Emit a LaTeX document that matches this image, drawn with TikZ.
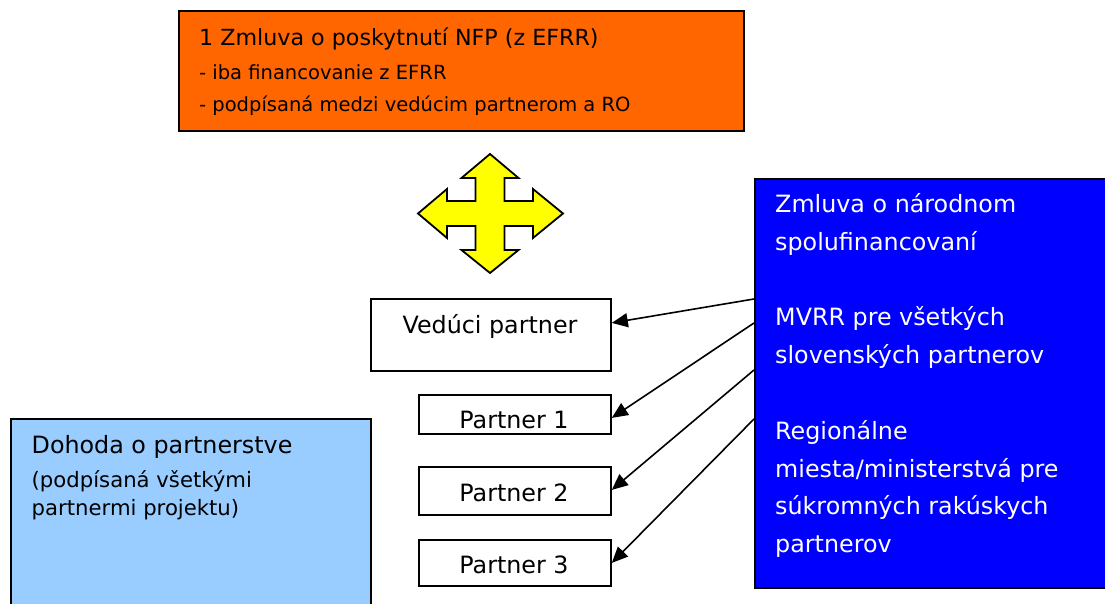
\documentclass[tikz,border=0pt]{standalone}
\usepackage{fontspec}
\setmainfont{DejaVu Sans}
\usetikzlibrary{arrows.meta}
\definecolor{nfpOrange}{HTML}{FF6600}
\definecolor{cofinBlue}{HTML}{0000FF}
\definecolor{pactBlue}{HTML}{99CCFF}
\definecolor{crossYellow}{HTML}{FFFF00}
\begin{document}
\begin{tikzpicture}[x=1pt,y=-1pt,
  box/.style={draw=black, line width=1.8pt, rectangle, inner sep=0pt, anchor=north west},
  line/.style={anchor=base west, inner sep=0pt},
  mid/.style={anchor=base, inner sep=0pt},
  big/.style={font=\fontsize{23.8}{28}\selectfont},
  head/.style={font=\fontsize{22.2}{26}\selectfont},
  small/.style={font=\fontsize{19.5}{24}\selectfont},
  note/.style={font=\fontsize{21.2}{24}\selectfont},
  link/.style={line width=1.6pt, -{Triangle[length=16pt,width=14pt]}}]
\useasboundingbox (0,0) rectangle (1105,604);

% contract boxes
\node[box, fill=nfpOrange, minimum width=565pt, minimum height=120pt] (nfp) at (178,10) {};
\node[box, fill=cofinBlue, minimum width=360pt, minimum height=409pt] (cofin) at (754,178) {};
\node[box, fill=pactBlue, minimum width=360pt, minimum height=200pt] (pact) at (10,418) {};

% partner boxes
\node[box, fill=white, minimum width=240pt, minimum height=72pt] (lead) at (370,298) {};
\node[box, fill=white, minimum width=192pt, minimum height=39pt] (p1) at (418,394) {};
\node[box, fill=white, minimum width=192pt, minimum height=48pt] (p2) at (418,466) {};
\node[box, fill=white, minimum width=192pt, minimum height=46pt] (p3) at (418,539) {};

% texts of the EFRR contract
\node[line, head] (nfpA) at (199,46) {1 Zmluva o poskytnutí NFP (z EFRR)};
\node[line, small] (nfpB) at (199,80) {- iba financovanie z EFRR};
\node[line, small] (nfpC) at (199,111.5) {- podpísaná medzi vedúcim partnerom a RO};

% partner labels
\node[mid, big] (leadT) at (490,333) {Vedúci partner};
\node[mid, big] (p1T) at (514,428.5) {Partner 1};
\node[mid, big] (p2T) at (514,501.5) {Partner 2};
\node[mid, big] (p3T) at (514,573) {Partner 3};

% partnership agreement
\node[line, big] (pactA) at (31.5,453) {Dohoda o partnerstve};
\node[line, note] (pactB) at (31.5,487.5) {(podpísaná všetkými};
\node[line, note] (pactC) at (31.5,515) {partnermi projektu)};

% national co-financing
\begin{scope}[every node/.style={line, big, text=white}]
\node (cA) at (775,212.5) {Zmluva o národnom};
\node (cB) at (775,250.3) {spolufinancovaní};
\node (cC) at (775,325.9) {MVRR pre všetkých};
\node (cD) at (775,363.7) {slovenských partnerov};
\node (cE) at (775,439.3) {Regionálne};
\node (cF) at (775,477.1) {miesta/ministerstvá pre};
\node (cG) at (775,514.9) {súkromných rakúskych};
\node (cH) at (775,552.7) {partnerov};
\end{scope}

% four-way arrow
\draw[fill=crossYellow, line width=1.8pt, line join=miter]
  (490,154) -- (518.5,178) -- (504.5,178) -- (504.5,201) -- (533,201) -- (533,189)
  -- (563,213.5) -- (533,238) -- (533,226) -- (504.5,226) -- (504.5,250) -- (518.5,250)
  -- (490,273) -- (461.5,250) -- (475.5,250) -- (475.5,226) -- (447,226) -- (447,238)
  -- (418,213.5) -- (447,189) -- (447,201) -- (475.5,201) -- (475.5,178) -- (461.5,178)
  -- cycle;

% connectors from the co-financing contract
\coordinate (s0) at ([yshift=-121pt]cofin.north west);
\coordinate (s1) at ([yshift=-145pt]cofin.north west);
\coordinate (s2) at ([yshift=-192pt]cofin.north west);
\coordinate (s3) at ([yshift=-241pt]cofin.north west);
\draw[link] (s0) -- ([yshift=12pt]lead.east);
\draw[link] (s1) -- ([yshift=-3.5pt]p1.east);
\draw[link] (s2) -- ([yshift=1pt]p2.east);
\draw[link] (s3) -- (p3.east);
\end{tikzpicture}
\end{document}
